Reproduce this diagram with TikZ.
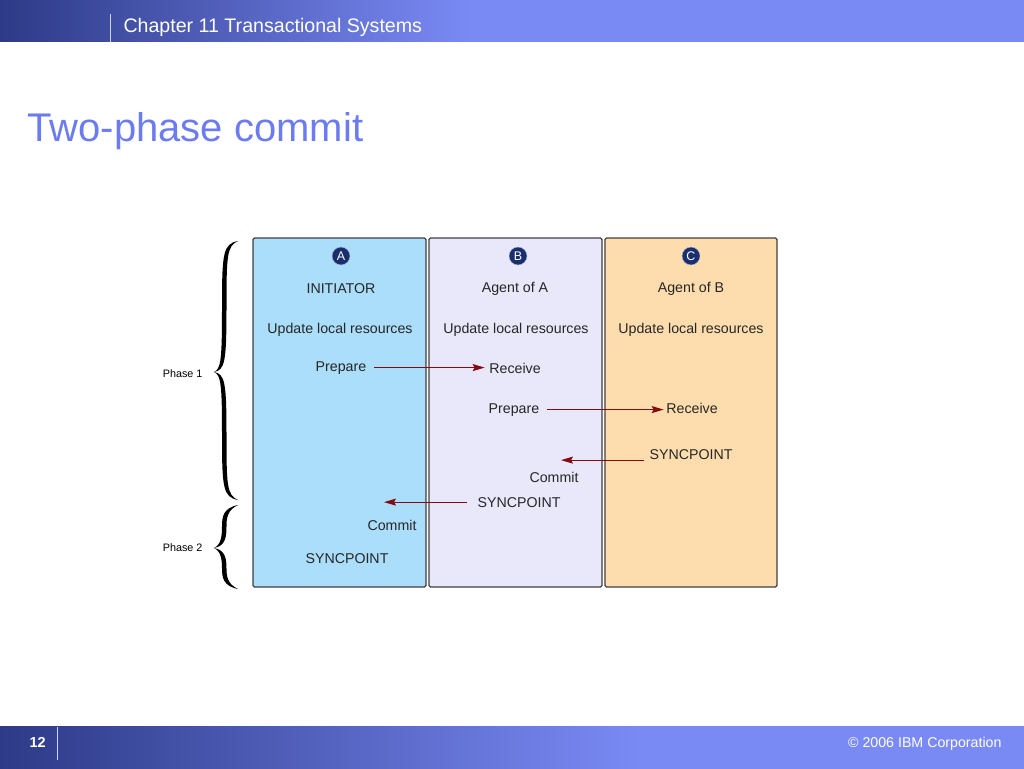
\documentclass[tikz,border=0pt]{standalone}
\usepackage{fontspec}
\setmainfont{Liberation Sans}
\usetikzlibrary{arrows.meta, positioning}

\definecolor{barblue}{RGB}{122,138,245}
\definecolor{bardark}{RGB}{45,58,135}
\definecolor{titleblue}{RGB}{108,124,240}
\definecolor{laneA}{RGB}{170,222,250}
\definecolor{laneB}{RGB}{232,232,250}
\definecolor{laneC}{RGB}{253,221,173}
\definecolor{tagblue}{RGB}{26,47,110}
\definecolor{msgred}{RGB}{130,10,16}

% curly brace: top end, tip, bottom end (y in pixels)
\newcommand{\phasebrace}[3]{%
    \fill (238,#1) .. controls (223,#1+3) and (222,#1+12) .. (222,{(#1+#2)/2})
        .. controls (222,#2-12) and (221,#2-3) .. (214,#2)
        .. controls (221,#2+3) and (222,#2+12) .. (222,{(#2+#3)/2})
        .. controls (222,#3-12) and (223,#3-3) .. (238,#3)
        .. controls (227,#3-5) and (226.5,#3-14) .. (226.5,{(#2+#3)/2})
        .. controls (226.5,#2+10) and (225,#2+2) .. (214,#2)
        .. controls (225,#2-2) and (226.5,#2-10) .. (226.5,{(#1+#2)/2})
        .. controls (226.5,#1+14) and (227,#1+5) .. (238,#1) -- cycle;}

\begin{document}
\begin{tikzpicture}[
            x = 1pt, y = -1pt, % pixel grid, y downwards
            > = {Stealth[length=12pt, width=7pt, inset=2pt]}, % arrow head style
            lane/.style = {draw = black!75, line width = 1.1pt, rounded corners = 1.5pt},
            tag/.style = {circle, fill = tagblue, draw = white!70!tagblue, thin,
                text = white, inner sep = 0pt, minimum size = 18pt,
                font = \fontsize{12.5}{12.5}\selectfont},
            txt/.style = {anchor = base, inner sep = 2pt, text = black!85,
                font = \fontsize{14.2}{16}\selectfont},
            msg/.style = {->, draw = msgred, line width = 0.9pt},
            phase/.style = {font = \fontsize{10.8}{12}\selectfont}
        ]
        \useasboundingbox (0,0) rectangle (1024,768);

        % header and footer bars
        \fill[barblue] (-2,-2) rectangle (1026,42);
        \shade[left color = bardark, right color = barblue] (-2,-2) rectangle (470,42);
        \draw[white!60!barblue, thin] (110,14) -- (110,42);
        \node[anchor = base west, text = white, font = \fontsize{19.6}{22}\selectfont]
            (chapter) at (120,33) {Chapter 11 Transactional Systems};
        \fill[barblue] (-2,726) rectangle (1026,770);
        \shade[left color = bardark, right color = barblue] (-2,726) rectangle (640,770);
        \draw[white!60!barblue, thin] (57,727) -- (57,760);
        \node[anchor = base west, text = white, font = \bfseries\fontsize{14.5}{16}\selectfont]
            (page) at (26,747) {12};
        \node[anchor = base east, text = white, font = \fontsize{14.2}{16}\selectfont]
            (copy) at (1005,747) {\textcopyright{} 2006 IBM Corporation};

        % title
        \node[anchor = base west, text = titleblue, font = \fontsize{40}{44}\selectfont]
            (title) at (24,141) {Two-phase commit};

        % the three lanes
        \draw[lane, fill = laneA] (253,238) rectangle (426,587);
        \draw[lane, fill = laneB] (429,238) rectangle (602,587);
        \draw[lane, fill = laneC] (605,238) rectangle (777,587);

        \node[tag] (tagA) at (341,256) {A};
        \node[tag] (tagB) at (518,256) {B};
        \node[tag] (tagC) at (691,256) {C};

        % lane A
        \node[txt] (roleA) at (341,293) {INITIATOR};
        \node[txt] (updA) at (340,333) {Update local resources};
        \node[txt] (prepA) at (341,371) {Prepare};
        \node[txt] (commitA) at (392,530) {Commit};
        \node[txt] (syncA) at (347,563) {SYNCPOINT};

        % lane B
        \node[txt] (roleB) at (515,292) {Agent of A};
        \node[txt] (updB) at (516,333) {Update local resources};
        \node[txt] (recvB) at (515,373) {Receive};
        \node[txt] (prepB) at (514,413) {Prepare};
        \node[txt] (commitB) at (554,482) {Commit};
        \node[txt] (syncB) at (519,507) {SYNCPOINT};

        % lane C
        \node[txt] (roleC) at (691,292) {Agent of B};
        \node[txt] (updC) at (691,333) {Update local resources};
        \node[txt] (recvC) at (692,413) {Receive};
        \node[txt] (syncC) at (691,459) {SYNCPOINT};

        % messages
        \draw[msg, shorten <= 5.5pt, shorten > = 2.5pt] (prepA.east) -- (prepA.east -| recvB.west);
        \draw[msg, shorten <= 5.5pt, shorten > = 0.5pt] (prepB.east) -- (prepB.east -| recvC.west);
        \draw[msg, shorten <= 3pt] ([yshift=-6pt]syncC.west) -- ([xshift=7pt, yshift=-6pt]syncC.west -| commitB.north);
        \draw[msg, shorten <= 8pt] (syncB.west) -- ([xshift=-8pt]syncB.west -| commitA.north);

        % phase braces
        \phasebrace{241}{372}{500}
        \phasebrace{505}{548}{589}
        \coordinate (tip1) at (214,374);
        \coordinate (tip2) at (214,548);
        \node[phase, left = 8pt of tip1] (phase1) {Phase 1};
        \node[phase, left = 8pt of tip2] (phase2) {Phase 2};
    \end{tikzpicture}
\end{document}
